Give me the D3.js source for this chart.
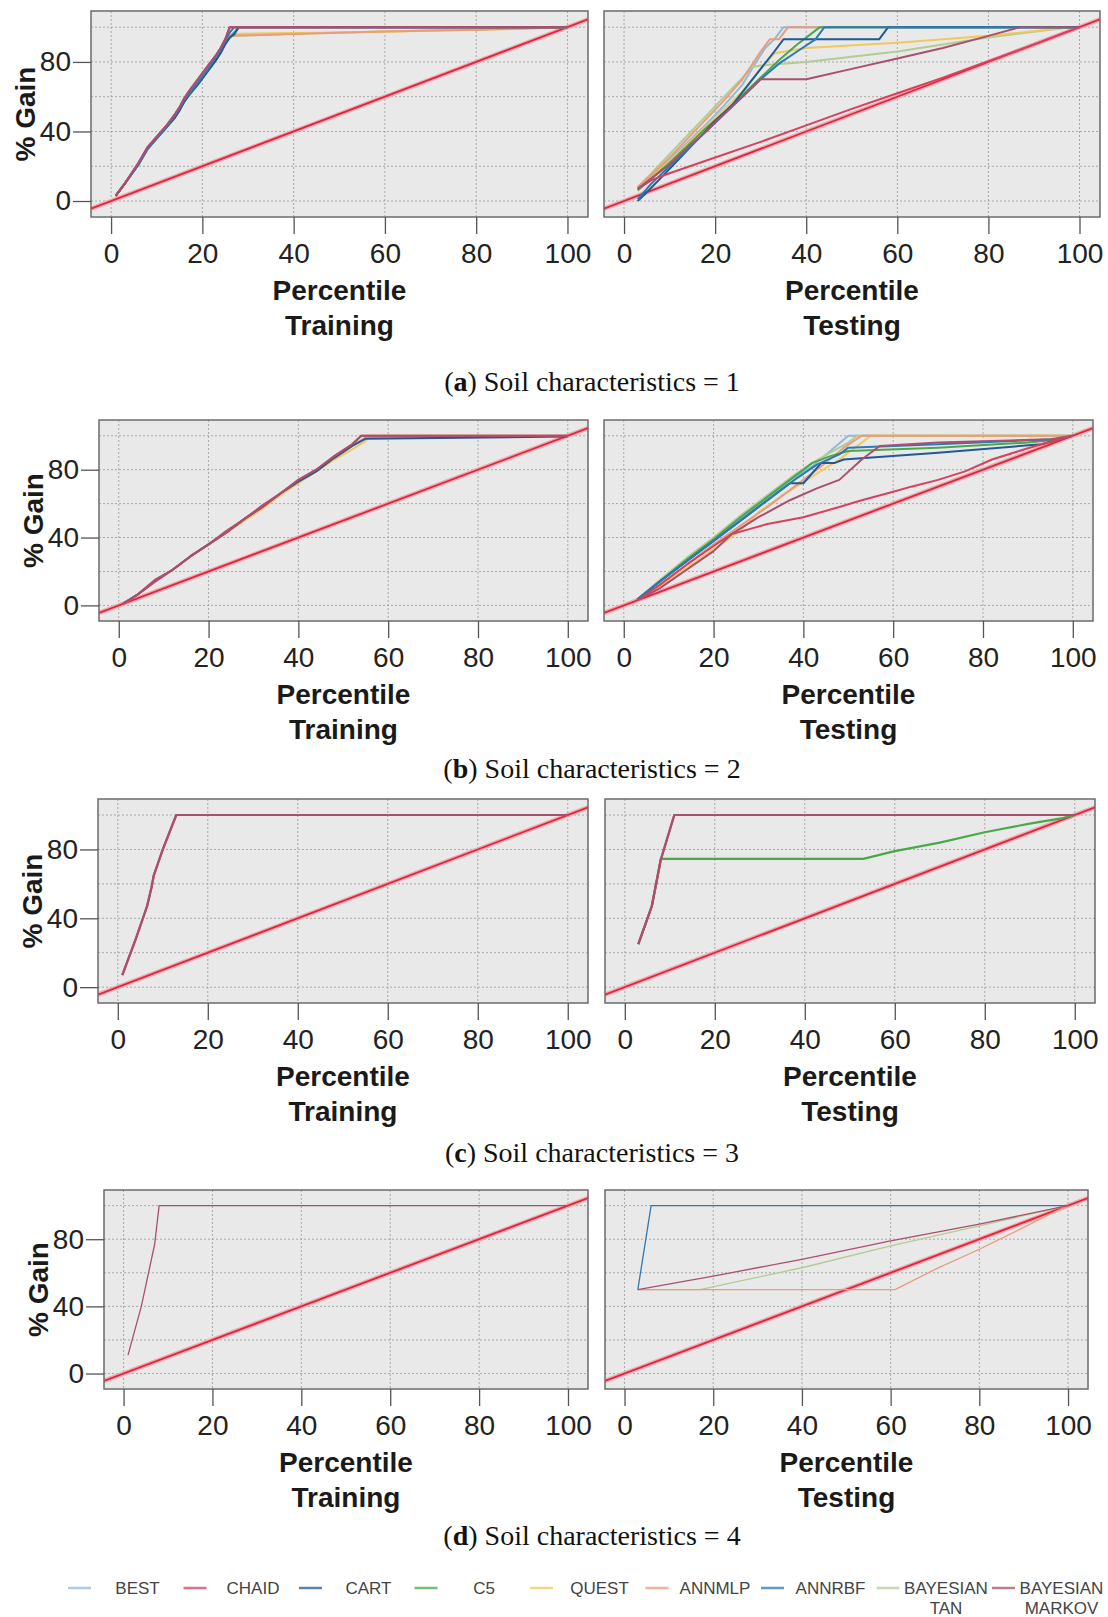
<!DOCTYPE html>
<html>
<head>
<meta charset="utf-8">
<script src="https://cdn.jsdelivr.net/npm/d3@7"></script>
<style>
  body { margin: 0; background: #fff; }
</style>
</head>
<body>
<svg id="chart" width="1108" height="1617"></svg>
<script>
// model names and their colours
var models = ["BEST", "CHAID", "CART", "C5", "QUEST", "ANNMLP", "ANNRBF", "BAYESIAN TAN", "BAYESIAN MARKOV"];
var modelColours = ["#8fbcd4", "#d9405e", "#1f5a94", "#4aa84a", "#f0c85e", "#eb9c7c", "#2a7ab8", "#b2cc94", "#a8506f"];
// draw order inside a panel (last on top)
var drawOrder = ["BEST", "BAYESIAN TAN", "QUEST", "ANNMLP", "C5", "CART", "ANNRBF", "CHAID", "BAYESIAN MARKOV"];

var xTicks = [0, 20, 40, 60, 80, 100];
var yTicks = [0, 40, 80];
var gridTicks = [0, 20, 40, 60, 80, 100];
var soilValues = [1, 2, 3, 4];
var panelLetters = ["a", "b", "c", "d"];

// cumulative gain curves: [percentile, % gain]
var aTrain = {
  "BEST": [[1,3],[3,10],[6,21],[8,30],[10,36],[12,42],[14,49],[15,53],[16,58],[17,62],[19,68],[21,75],[23,82],[24,86],[25,91],[26,95],[27,97],[28,100],[100,100]],
  "BAYESIAN TAN": [[1,3],[3,10],[6,21],[8,30],[10,36],[12,42],[14,49],[16,57],[19,68],[21,75],[23,82],[25,91],[26,95],[50,97],[100,100]],
  "QUEST": [[1,3],[3,10],[6,21],[8,30],[10,36],[12,42],[14,48],[16,57],[19,68],[21,75],[23,82],[25,92],[26,96],[35,96.5],[50,97],[70,98],[90,99],[100,100]],
  "ANNMLP": [[1,3],[3,10],[6,21],[8,30],[10,36],[12,42],[14,49],[16,57],[19,68],[21,75],[23,83],[25,92],[26,95],[40,96],[60,97.5],[80,98.5],[100,100]],
  "C5": [[1,3],[3,10],[6,21],[8,30],[10,36],[12,42],[14,48],[16,57],[19,67],[21,74],[23,81],[25,91],[26,94],[27,97],[28,100],[100,100]],
  "CART": [[1,3],[3,10],[6,21],[8,30],[10,36],[12,42],[14,48],[15,52],[16,57],[17,61],[19,67],[21,74],[23,81],[24,85],[25,90],[26,94],[27,96],[28,100],[100,100]],
  "ANNRBF": [[1,3],[3,10],[6,21],[8,30],[10,36],[12,42],[14,49],[16,58],[19,68],[21,75],[23,83],[24,87],[25,92],[26,97],[27,100],[100,100]],
  "CHAID": [[1,3],[3,10],[6,22],[8,31],[10,37],[12,43],[14,50],[15,54],[16,59],[17,63],[19,70],[21,77],[23,84],[24,88],[25,93],[26,100],[100,100]],
  "BAYESIAN MARKOV": [[1,3],[3,10],[6,22],[8,31],[10,37],[12,43],[14,50],[15,54],[16,59],[17,63],[19,70],[21,77],[23,84],[24,88],[25,93],[26,100],[100,100]]
};

var aTest = {
  "BEST": [[3,7],[6,14],[10,24],[14,34],[18,44],[22,55],[26,67],[29,80],[31,88],[33,93],[35,100],[100,100]],
  "BAYESIAN TAN": [[3,8],[6,16],[10,27],[14,38],[18,49],[22,60],[26,71],[28,77],[30,78],[40,80],[60,86],[80,94],[98,100],[100,100]],
  "QUEST": [[3,7],[6,14],[10,23],[14,33],[18,43],[22,53],[26,63],[30,76],[33,85],[40,88],[60,91],[80,95],[98,100],[100,100]],
  "ANNMLP": [[3,8],[6,15],[10,25],[14,36],[18,47],[22,58],[26,70],[28,78],[30,86],[32,93],[34,93],[36,100],[57,100],[100,100]],
  "C5": [[3,6],[6,13],[10,22],[14,32],[18,42],[22,51],[26,61],[30,71],[34,81],[38,90],[41,96],[43,100],[100,100]],
  "CART": [[3,0],[5,5],[8,13],[12,24],[16,35],[20,46],[24,56],[27,66],[30,76],[33,86],[35,93],[56,93],[58,100],[100,100]],
  "ANNRBF": [[3,1],[6,10],[10,20],[14,30],[18,40],[22,50],[26,60],[30,70],[34,79],[38,86],[42,93],[44,100],[100,100]],
  "CHAID": [[3,7],[6,12],[10,16],[20,25],[30,34],[40,43.5],[50,53],[60,62],[70,71],[80,80.5],[90,90],[100,100]],
  "BAYESIAN MARKOV": [[3,7],[6,13],[10,21],[14,31],[18,40],[22,50],[26,60],[30,70],[40,70],[50,76],[60,82],[70,88],[80,95],[87,100],[100,100]]
};

var bTrain = {
  "QUEST": [[1,1],[4,6],[8,14],[12,21],[16,29],[20,36],[24,43],[28,50],[32,57],[36,65],[40,72],[44,79],[48,86],[52,92],[55,97],[56,100],[100,100]],
  "ANNMLP": [[1,1],[4,6],[8,14],[12,21],[16,29],[20,36],[24,43],[28,51],[32,58],[36,66],[40,73],[44,80],[48,87],[52,94],[55,99],[100,100]],
  "CART": [[1,1],[4,6],[8,14],[12,21],[16,29],[20,36],[24,43],[28,51],[32,58],[36,66],[40,73],[44,79],[48,87],[52,94],[55,98.3],[100,99.5]],
  "CHAID": [[1,1],[4,6],[8,14],[12,21],[16,29],[20,36],[24,43],[28,51],[32,58],[36,66],[40,74],[44,80],[48,88],[52,95],[54,100],[100,100]],
  "BAYESIAN MARKOV": [[1,1],[4,6],[8,15],[12,21],[16,29],[20,36],[24,44],[28,51],[32,59],[36,66],[40,74],[44,80],[48,88],[52,95],[54,100],[100,100]]
};

var bTest = {
  "BEST": [[3,3.5],[8,14],[14,26],[20,38],[26,51],[32,63],[37,74],[42,82],[46,91],[50,100],[100,100]],
  "BAYESIAN TAN": [[3,3.5],[8,15],[14,28],[20,40],[26,53],[32,65],[37,75],[42,84],[46,90],[50,96],[52,100],[100,100]],
  "QUEST": [[3,3],[8,11],[14,22],[20,33],[26,44],[30,55],[36,66],[42,76],[48,86],[52,94],[55,100],[100,100]],
  "ANNMLP": [[3,3],[8,12],[14,24],[20,36],[26,47],[32,58],[38,70],[44,82],[49,93],[53,100],[100,100]],
  "C5": [[3,3.5],[8,14],[14,27],[20,39],[26,52],[32,64],[37,74],[42,84],[46,88],[50,91],[70,93],[90,96],[97,98],[100,100]],
  "CART": [[3,3.5],[8,14],[14,26],[20,38],[26,50],[32,62],[37,72],[40,72],[44,84],[47,84],[49,86],[70,90],[93,95],[100,100]],
  "ANNRBF": [[3,3.5],[8,14],[14,26],[20,38],[26,50],[32,62],[38,74],[43,83],[48,89],[50,93],[70,95],[96,98],[100,100]],
  "CHAID": [[3,3],[8,12],[14,24],[20,35],[24,42],[32,48],[40,52],[48,58],[53,62],[60,67],[64,70],[70,74],[76,79],[82,86],[88,91],[93,95],[100,100]],
  "BAYESIAN MARKOV": [[3,3],[8,10],[14,21],[20,32],[24,42],[30,52],[37,62],[43,69],[48,74],[53,86],[57,94],[70,96],[95,98],[100,100]]
};

var cTrain = {
  "CHAID": [[1,7],[4,28],[6.5,47],[7.5,58],[8,65],[10,80],[13,100],[100,100]],
  "BAYESIAN MARKOV": [[1,7],[4,28],[6.5,47],[7.5,58],[8,65],[10,80],[13,100],[100,100]]
};

var cTest = {
  "C5": [[3,25],[6,47],[8,74.5],[53,74.5],[60,79],[70,84],[80,90],[90,95],[97,98],[100,100]],
  "CHAID": [[3,25],[6,47],[8,74],[11,100],[100,100]],
  "BAYESIAN MARKOV": [[3,25],[6,47],[8,74],[11,100],[100,100]]
};

var dTrain = {
  "BAYESIAN MARKOV": [[1,11],[4,40],[7,77],[8,100],[100,100]]
};

var dTest = {
  "BAYESIAN TAN": [[3,50],[17,50],[40,63],[60,76],[80,88],[100,100]],
  "ANNMLP": [[3,50],[61,50],[70,62],[80,74],[90,87],[96,95],[100,100]],
  "ANNRBF": [[3,50],[6,100],[100,100]],
  "BAYESIAN MARKOV": [[3,50],[20,58],[40,68],[60,79],[80,89],[100,100]]
};

// layout
var xDomain = [-4.4, 104.5], yDomain = [-9.2, 109.3];
var panels = [
  { data: aTrain, box: [91, 11, 588, 217], name: "Training", left: true, width: 2 },
  { data: aTest, box: [604, 11, 1100, 217], name: "Testing", left: false, width: 2 },
  { data: bTrain, box: [99, 420, 588, 621], name: "Training", left: true, width: 2 },
  { data: bTest, box: [604, 420, 1093, 621], name: "Testing", left: false, width: 2 },
  { data: cTrain, box: [98, 799, 588, 1003], name: "Training", left: true, width: 2.2 },
  { data: cTest, box: [605, 799, 1095, 1003], name: "Testing", left: false, width: 2.2 },
  { data: dTrain, box: [104, 1190, 588, 1389], name: "Training", left: true, width: 1.3 },
  { data: dTest, box: [605, 1190, 1088, 1389], name: "Testing", left: false, width: 1.3 }
];
var captionY = [391, 778, 1162, 1545];

var svg = d3.select("#chart");
var sans = "'Liberation Sans', Arial, sans-serif";
var colourOf = function (m) { return modelColours[models.indexOf(m)]; };

var drawPanel = function (p, i) {
  var x = d3.scaleLinear().domain(xDomain).range([p.box[0], p.box[2]]);
  var y = d3.scaleLinear().domain(yDomain).range([p.box[3], p.box[1]]);
  var g = svg.append("g");

  g.append("rect")
    .attr("x", p.box[0]).attr("y", p.box[1])
    .attr("width", p.box[2] - p.box[0]).attr("height", p.box[3] - p.box[1])
    .attr("fill", "#e9e9e9");

  g.append("clipPath").attr("id", "clip" + i)
    .append("rect")
    .attr("x", p.box[0]).attr("y", p.box[1])
    .attr("width", p.box[2] - p.box[0]).attr("height", p.box[3] - p.box[1]);

  // dotted grid
  g.selectAll("line.vg").data(gridTicks).enter().append("line")
    .attr("x1", function (d) { return x(d); }).attr("x2", function (d) { return x(d); })
    .attr("y1", p.box[1]).attr("y2", p.box[3])
    .attr("stroke", "#a0a0a0").attr("stroke-width", 0.9).attr("stroke-dasharray", "2,2");
  g.selectAll("line.hg").data(gridTicks).enter().append("line")
    .attr("y1", function (d) { return y(d); }).attr("y2", function (d) { return y(d); })
    .attr("x1", p.box[0]).attr("x2", p.box[2])
    .attr("stroke", "#a0a0a0").attr("stroke-width", 0.9).attr("stroke-dasharray", "2,2");

  var plot = g.append("g").attr("clip-path", "url(#clip" + i + ")");
  var line = d3.line().x(function (d) { return x(d[0]); }).y(function (d) { return y(d[1]); });

  // baseline (random model)
  var diag = [[xDomain[0], xDomain[0]], [xDomain[1], xDomain[1]]];
  plot.append("path").attr("d", line(diag)).attr("fill", "none")
    .attr("stroke", "#f5a6b0").attr("stroke-width", 4.5);
  plot.append("path").attr("d", line(diag)).attr("fill", "none")
    .attr("stroke", "#d9283b").attr("stroke-width", 1.8);

  drawOrder.forEach(function (m) {
    if (!p.data[m]) return;
    plot.append("path")
      .attr("d", line(p.data[m]))
      .attr("fill", "none")
      .attr("stroke", colourOf(m))
      .attr("stroke-width", p.width)
      .attr("stroke-linejoin", "round");
  });

  g.append("rect")
    .attr("x", p.box[0]).attr("y", p.box[1])
    .attr("width", p.box[2] - p.box[0]).attr("height", p.box[3] - p.box[1])
    .attr("fill", "none").attr("stroke", "#6b6b6b").attr("stroke-width", 1.5);

  var xAxis = g.append("g")
    .attr("transform", "translate(0," + p.box[3] + ")")
    .call(d3.axisBottom(x).tickValues(xTicks).tickSize(17).tickPadding(9).tickFormat(d3.format("d")));
  xAxis.select(".domain").remove();

  if (p.left) {
    var yAxis = g.append("g")
      .attr("transform", "translate(" + p.box[0] + ",0)")
      .call(d3.axisLeft(y).tickValues(yTicks).tickSize(18).tickPadding(2).tickFormat(d3.format("d")));
    yAxis.select(".domain").remove();
    g.append("text")
      .attr("transform", "translate(" + (p.box[0] - 56) + "," + ((p.box[1] + p.box[3]) / 2) + ") rotate(-90)")
      .attr("text-anchor", "middle")
      .style("font", "bold 28px " + sans).style("fill", "#1a1a1a")
      .text("% Gain");
  }

  g.selectAll(".tick line").attr("stroke", "#555").attr("stroke-width", 1.3);
  g.selectAll(".tick text").style("font-size", "28px").style("font-family", sans).style("fill", "#222");

  var cx = (p.box[0] + p.box[2]) / 2;
  g.append("text").attr("x", cx).attr("y", p.box[3] + 83)
    .attr("text-anchor", "middle")
    .style("font", "bold 28px " + sans).style("fill", "#1a1a1a")
    .text("Percentile");
  g.append("text").attr("x", cx).attr("y", p.box[3] + 118)
    .attr("text-anchor", "middle")
    .style("font", "bold 28px " + sans).style("fill", "#1a1a1a")
    .text(p.name);
};

panels.forEach(drawPanel);

// captions
soilValues.forEach(function (v, i) {
  var t = svg.append("text")
    .attr("x", 592).attr("y", captionY[i])
    .attr("text-anchor", "middle")
    .style("font-family", "'Liberation Serif', 'DejaVu Serif', serif")
    .style("font-size", "28px").style("fill", "#111");
  t.append("tspan").text("(");
  t.append("tspan").style("font-weight", "bold").text(panelLetters[i]);
  t.append("tspan").text(") Soil characteristics = " + v);
});

// legend
var legendX = d3.scaleLinear().domain([0, 1]).range([68, 183.5]);
var legend = svg.append("g");
models.forEach(function (m, i) {
  var x0 = legendX(i);
  legend.append("line")
    .attr("x1", x0).attr("x2", x0 + 23)
    .attr("y1", 1588).attr("y2", 1588)
    .attr("stroke", modelColours[i]).attr("stroke-width", 2.5).attr("opacity", 0.75);
  var words = m.split(" ");
  words.forEach(function (w, k) {
    legend.append("text")
      .attr("x", x0 + 69.5).attr("y", 1594 + k * 20)
      .attr("text-anchor", "middle")
      .style("font-family", sans).style("font-size", "17px").style("fill", "#444")
      .text(w);
  });
});
</script>
</body>
</html>
